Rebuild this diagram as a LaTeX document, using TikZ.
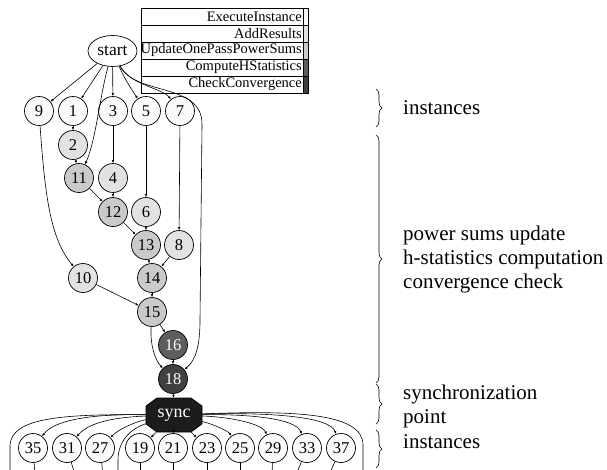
\documentclass[tikz,border=0pt]{standalone}
\usepackage{fontspec}
\setmainfont{Liberation Serif}
\usetikzlibrary{arrows.meta,shapes.geometric,decorations.pathreplacing}
\definecolor{cinst}{HTML}{FAFAFA}
\definecolor{cadd}{HTML}{E2E2E2}
\definecolor{cupd}{HTML}{C9CBC9}
\definecolor{chst}{HTML}{5E5E5E}
\definecolor{cconv}{HTML}{404040}
\definecolor{csync}{HTML}{1C1C1C}
\tikzset{
  nd/.style={circle,draw=black,line width=0.7pt,minimum size=29pt,inner sep=0pt,font=\fontsize{16.5}{18}\selectfont},
  inst/.style={nd,fill=cinst},
  addr/.style={nd,fill=cadd},
  upd/.style={nd,fill=cupd},
  hst/.style={nd,fill=chst,text=white},
  conv/.style={nd,fill=cconv,text=white},
  edge/.style={line width=0.6pt,-{Latex[length=3pt,width=2.6pt]}},
  plain/.style={line width=0.6pt},
  lgrow/.style={draw=black,line width=0.8pt},
  lbl/.style={anchor=west,align=left,inner sep=0pt,font=\fontsize{21}{24}\selectfont},
  brc/.style={decorate,decoration={brace,amplitude=6pt},line width=0.6pt},
}
\begin{document}
\begin{tikzpicture}[x=1pt,y=-1pt]
\useasboundingbox (0,0) rectangle (607,469);
\clip (0,0) rectangle (607,469);
% legend
\foreach \t/\c [count=\i] in {ExecuteInstance/cinst,AddResults/cadd,UpdateOnePassPowerSums/cupd,ComputeHStatistics/chst,CheckConvergence/cconv}{
  \fill[\c] (303,{8+17*(\i-1)}) rectangle (308,{8+17*\i});
  \draw[lgrow] (141,{8+17*(\i-1)}) rectangle (308,{8+17*\i});
  \draw[line width=0.6pt] (303,{8+17*(\i-1)}) -- (303,{8+17*\i});
  \node[anchor=east,inner sep=0pt,font=\fontsize{14.5}{16}\selectfont] (lg\i) at (302,{8+17*(\i-0.5)}) {\t};
}
% nodes
\node[ellipse,draw=black,line width=0.7pt,fill=white,minimum width=49pt,minimum height=31pt,inner sep=0pt,font=\fontsize{17.5}{19}\selectfont] (start) at (112.5,51) {start};
\node[inst] (n9) at (39,111) {9};
\node[inst] (n1) at (73,111) {1};
\node[inst] (n3) at (113,111) {3};
\node[inst] (n5) at (146,111) {5};
\node[inst] (n7) at (180,111) {7};
\node[addr] (n2) at (73,145) {2};
\node[upd] (n11) at (79,178) {11};
\node[addr] (n4) at (113,178) {4};
\node[upd] (n12) at (113,212) {12};
\node[addr] (n6) at (146,212) {6};
\node[upd] (n13) at (146,245) {13};
\node[addr] (n8) at (179,245) {8};
\node[addr] (n10) at (83,278) {10};
\node[upd] (n14) at (152,278) {14};
\node[upd] (n15) at (152,312) {15};
\node[hst] (n16) at (173,345) {16};
\node[conv] (n18) at (173,379) {18};
\filldraw[fill=csync,draw=black,line width=0.7pt] (146,406) -- (157,398) -- (191,398) -- (202,406) -- (202,424) -- (191,432) -- (157,432) -- (146,424) -- cycle;
\node[rectangle,text=white,minimum width=56pt,minimum height=34pt,inner sep=0pt,font=\fontsize{18}{20}\selectfont] (sync) at (174,415) {sync};
\foreach \n/\x in {35/33,31/67,27/100,19/140,21/173,23/207,25/240,29/273,33/307,37/341}{
  \node[inst] (b\n) at (\x,448) {\n};
}
% edges from start
\draw[edge] (start) -- (n9);
\draw[edge] (start) -- (n1);
\draw[edge] (start) .. controls (100,95) and (96,140) .. (n11);
\draw[edge] (start) -- (n3);
\draw[edge] (start) .. controls (125,80) and (132,90) .. (n5);
\draw[edge] (start) .. controls (130,85) and (162,88) .. (n7);
\draw[edge] (start) .. controls (135,96) and (203,82) .. (202,125) -- (200,320) .. controls (200,345) and (196,360) .. (n18);
% chains
\draw[edge] (n1) -- (n2);
\draw[edge] (n2) -- (n11);
\draw[edge] (n11) -- (n12);
\draw[edge] (n3) -- (n4);
\draw[edge] (n4) -- (n12);
\draw[edge] (n12) -- (n13);
\draw[edge] (n5) -- (n6);
\draw[edge] (n6) -- (n13);
\draw[edge] (n7) -- (n8);
\draw[edge] (n13) -- (n14);
\draw[edge] (n8) -- (n14);
\draw[edge] (n9) .. controls (45,195) and (50,238) .. (n10);
\draw[edge] (n10) -- (n15);
\draw[edge] (n14) -- (n15);
\draw[edge] (n15) -- (n16);
\draw[edge] (n15) .. controls (150,345) and (155,360) .. (n18);
\draw[edge] (n16) -- (n18);
\draw[edge] (n18) -- (sync);
% sync to bottom row
\draw[edge] (sync) -- (b19);
\draw[edge] (sync) -- (b21);
\draw[edge] (sync) -- (b23);
\draw[edge] (sync) .. controls (138,421) and (120,428) .. (b27);
\draw[edge] (sync) .. controls (120,417) and (90,421) .. (b31);
\draw[edge] (sync) .. controls (100,414) and (56,418) .. (b35);
\draw[plain] (sync) .. controls (60,414) and (12,418) .. (10,445) -- (10,475);
\draw[plain] (sync) .. controls (132,428) and (118,440) .. (118,460) -- (118,475);
\draw[edge] (sync) .. controls (213,424) and (228,431) .. (b25);
\draw[edge] (sync) .. controls (232,417) and (262,424) .. (b29);
\draw[edge] (sync) .. controls (252,414) and (296,419) .. (b33);
\draw[edge] (sync) .. controls (272,412) and (330,417) .. (b37);
\draw[plain] (sync) .. controls (300,410) and (363,414) .. (363,445) -- (363,475);
% stubs below bottom row
\draw[plain] (b35) -- (35,475);
\draw[plain] (b31) -- (75,475);
\draw[plain] (b27) -- (103,475);
\draw[plain] (b19) -- (140,475);
\draw[plain] (b21) -- (173,475);
\draw[plain] (b23) -- (207,475);
\draw[plain] (b25) -- (240,475);
\draw[plain] (b29) -- (272,475);
\draw[plain] (b33) -- (296,475);
\draw[plain] (b37) -- (329,475);
% braces and labels
\draw[brc] (376,89) -- (376,127);
\node[lbl] (l1) at (403,108) {instances};
\draw[brc] (376,135) -- (376,383);
\node[lbl] (l2) at (403,259) {power sums update\\h-statistics computation\\convergence check};
\draw[brc] (376,384) -- (376,424);
\node[lbl] (l3) at (403,406) {synchronization\\point};
\draw[brc] (376,430) -- (376,468);
\node[lbl] (l4) at (403,442) {instances};
\end{tikzpicture}
\end{document}
